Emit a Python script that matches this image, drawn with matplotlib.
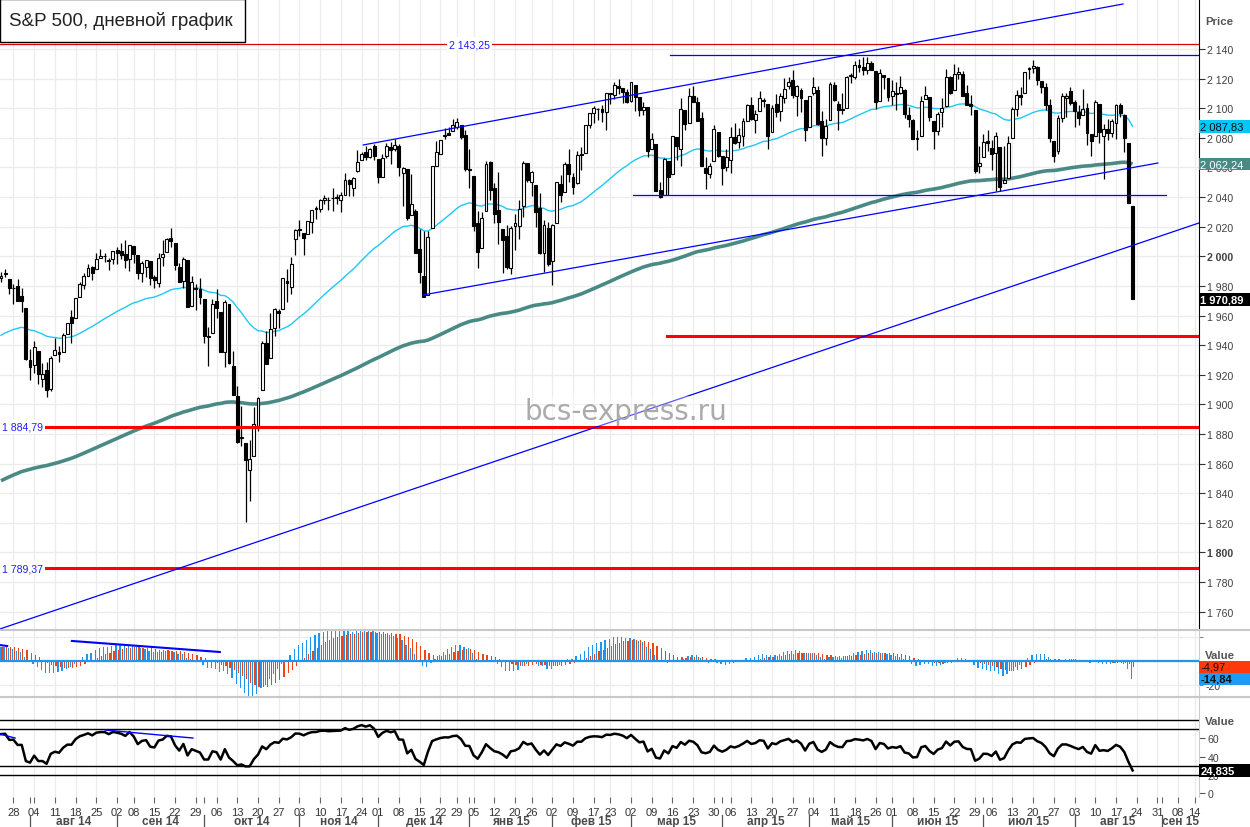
import matplotlib
matplotlib.use('Agg')
from matplotlib import pyplot as plt
from matplotlib.patches import Rectangle
from matplotlib.lines import Line2D
from matplotlib.transforms import blended_transform_factory
import numpy as np
import pandas as pd

plt.rcParams['font.family'] = ['Liberation Sans', 'DejaVu Sans']

W, H = 1250, 828

# торговые дни (биржевые праздники США)
holidays = ['2014-09-01', '2014-11-27', '2014-12-25', '2015-01-01', '2015-01-19',
            '2015-02-16', '2015-04-03', '2015-05-25', '2015-07-03', '2015-09-07']
dates = pd.bdate_range('2014-07-23', '2015-08-21', freq='C', holidays=holidays)
axis_dates = pd.bdate_range('2014-07-23', '2015-09-16', freq='C', holidays=holidays)

# ==================== котировки S&P 500 (по месяцам) ====================
opens = [
    1985.3, 1988.1, 1984.6, 1978.3, 1980.0, 1973.2, 1965.1,
    1929.8, 1926.6, 1936.3, 1917.3, 1923.0, 1910.4, 1933.4, 1935.7, 1935.6, 1947.4, 1958.9, 1958.4, 1972.7, 1980.5, 1986.8, 1992.6, 1991.7, 1998.6, 2000.5, 1997.4, 1998.5,
    2004.1, 2003.6, 2001.7, 1998.0, 2007.2, 2000.7, 1988.4, 1992.9, 1996.7, 1986.0, 1981.9, 1999.3, 2003.1, 2012.7, 2009.1, 1992.8, 1983.3, 1997.3, 1966.2, 1978.9, 1978.2,
    1971.4, 1945.8, 1948.1, 1970.0, 1962.4, 1935.6, 1967.7, 1925.6, 1905.7, 1877.1, 1874.2, 1855.9, 1864.9, 1885.6, 1909.4, 1941.3, 1931.0, 1951.6, 1962.9, 1964.1, 1983.3, 1979.5, 2011.4,
    2018.2, 2015.8, 2015.3, 2023.3, 2032.0, 2032.0, 2038.2, 2037.8, 2039.2, 2039.7, 2038.3, 2041.5, 2051.2, 2045.9, 2057.5, 2065.1, 2070.2, 2067.4, 2074.8,
    2065.8, 2053.8, 2067.5, 2073.6, 2072.8, 2074.8, 2056.6, 2058.9, 2027.9, 2030.4, 2005.0, 1986.7, 1973.8, 2018.9, 2061.0, 2069.3, 2081.5, 2083.3, 2084.3, 2087.6, 2088.5, 2082.1,
    2058.9, 2054.4, 2022.2, 2005.6, 2030.6, 2063.5, 2046.1, 2031.6, 2018.4, 2013.8, 1992.3, 2020.8, 2020.2, 2034.3, 2063.0, 2050.4, 2047.9, 2032.3, 2002.5, 2019.4,
    1996.7, 2022.7, 2048.9, 2043.5, 2062.3, 2053.5, 2049.4, 2068.6, 2070.0, 2088.8, 2096.5, 2099.2, 2099.3, 2097.7, 2109.8, 2109.1, 2115.3, 2113.9, 2110.9,
    2105.2, 2115.8, 2107.7, 2098.5, 2100.9, 2072.3, 2076.1, 2044.7, 2041.1, 2064.6, 2055.4, 2080.6, 2072.8, 2098.7, 2090.3, 2108.0, 2103.9, 2093.1, 2059.9, 2055.8, 2064.1, 2084.1,
    2067.6, 2060.0, 2064.9, 2080.8, 2076.9, 2081.3, 2091.5, 2102.0, 2092.3, 2097.8, 2105.0, 2102.6, 2084.1, 2102.8, 2098.3, 2107.2, 2114.8, 2119.3, 2108.4, 2112.5, 2105.5,
    2087.4, 2110.2, 2112.6, 2091.3, 2080.0, 2092.1, 2115.6, 2102.9, 2099.6, 2100.4, 2122.1, 2121.3, 2129.5, 2127.8, 2125.6, 2130.4, 2125.3, 2105.1, 2122.3, 2120.7,
    2108.6, 2110.4, 2110.6, 2112.4, 2095.1, 2092.3, 2079.1, 2081.1, 2106.2, 2107.4, 2091.3, 2084.3, 2097.4, 2101.6, 2121.1, 2112.5, 2123.2, 2123.2, 2110.0, 2102.6, 2098.6, 2061.2,
    2067.0, 2078.0, 2073.0, 2069.5, 2073.9, 2049.7, 2052.7, 2080.0, 2099.7, 2109.0, 2110.5, 2126.8, 2126.9, 2127.6, 2118.2, 2114.2, 2102.2, 2078.2, 2070.8, 2093.3, 2106.8, 2111.6,
    2104.5, 2097.7, 2095.3, 2100.1, 2082.6, 2081.0, 2102.7, 2081.1, 2086.2, 2083.2, 2089.7, 2102.0, 2095.7, 2076.6, 2034.1,
]
highs = [
    1989.2, 1991.4, 1984.6, 1981.5, 1984.9, 1978.9, 1965.1,
    1937.4, 1942.9, 1936.3, 1927.9, 1928.9, 1932.4, 1944.9, 1939.7, 1948.4, 1955.2, 1964.0, 1971.9, 1982.6, 1988.6, 1994.8, 1993.5, 2001.9, 2005.0, 2002.1, 1998.6, 2003.4,
    2006.1, 2009.3, 2011.2, 2007.7, 2007.2, 2001.0, 1996.7, 1997.7, 1996.7, 1987.2, 2002.3, 2010.7, 2012.3, 2019.3, 2009.1, 1995.4, 1999.8, 1997.3, 1986.4, 1981.3, 1985.2,
    1971.4, 1952.3, 1971.2, 1977.8, 1962.4, 1970.4, 1967.7, 1936.0, 1912.1, 1898.7, 1874.2, 1876.0, 1898.2, 1905.0, 1942.5, 1949.3, 1961.9, 1965.3, 1964.6, 1985.1, 1991.4, 1999.4, 2018.2,
    2024.5, 2015.8, 2023.8, 2031.6, 2034.3, 2038.7, 2041.3, 2040.3, 2046.2, 2042.2, 2043.1, 2056.1, 2052.1, 2053.8, 2071.5, 2070.2, 2074.2, 2073.3, 2075.8,
    2065.8, 2068.8, 2076.3, 2077.3, 2079.5, 2075.8, 2060.6, 2058.9, 2055.5, 2032.1, 2018.7, 2016.9, 2016.8, 2061.2, 2077.9, 2078.8, 2086.7, 2087.6, 2092.7, 2093.6, 2088.5, 2085.6,
    2072.4, 2054.4, 2030.3, 2029.6, 2064.1, 2064.4, 2049.3, 2056.9, 2018.4, 2021.4, 2020.5, 2028.9, 2038.3, 2064.6, 2063.0, 2057.6, 2047.9, 2042.5, 2024.6, 2023.3,
    2021.7, 2050.3, 2054.7, 2063.6, 2072.4, 2056.2, 2070.9, 2073.5, 2088.5, 2097.0, 2101.3, 2100.2, 2102.1, 2110.6, 2110.1, 2117.9, 2119.6, 2113.9, 2112.7,
    2117.5, 2115.8, 2107.7, 2104.3, 2100.9, 2083.5, 2076.1, 2050.1, 2066.4, 2064.6, 2081.4, 2080.6, 2106.9, 2098.7, 2113.9, 2114.9, 2107.6, 2097.4, 2067.2, 2062.8, 2089.0, 2084.1,
    2067.6, 2072.2, 2087.0, 2089.8, 2086.7, 2093.3, 2102.6, 2107.6, 2098.6, 2111.9, 2107.0, 2102.6, 2101.9, 2109.6, 2110.0, 2120.5, 2120.9, 2125.9, 2116.0, 2113.7, 2105.5,
    2108.4, 2121.0, 2115.2, 2098.4, 2092.9, 2117.7, 2117.7, 2105.1, 2110.2, 2121.5, 2123.9, 2131.8, 2133.0, 2134.7, 2134.3, 2132.2, 2125.3, 2126.2, 2122.3, 2120.7,
    2119.2, 2117.6, 2121.9, 2112.9, 2101.0, 2093.0, 2085.6, 2108.5, 2115.0, 2107.4, 2091.3, 2097.4, 2106.8, 2126.6, 2121.6, 2129.9, 2128.0, 2125.1, 2116.0, 2108.9, 2098.6, 2074.3,
    2082.8, 2085.1, 2078.6, 2083.7, 2074.0, 2074.3, 2081.3, 2100.7, 2112.0, 2114.1, 2124.4, 2128.0, 2132.8, 2128.5, 2118.5, 2116.9, 2106.0, 2078.2, 2095.6, 2110.6, 2110.5, 2114.2,
    2105.7, 2102.5, 2112.7, 2103.3, 2082.6, 2105.4, 2102.7, 2089.1, 2092.9, 2092.5, 2102.9, 2103.5, 2096.2, 2076.6, 2034.1,
]
lows = [
    1982.4, 1985.8, 1974.4, 1968.0, 1969.9, 1962.4, 1930.0,
    1916.4, 1921.2, 1913.8, 1911.5, 1904.8, 1909.0, 1933.4, 1928.3, 1935.6, 1947.4, 1941.5, 1958.4, 1972.7, 1977.7, 1986.8, 1984.1, 1991.7, 1998.6, 1996.2, 1990.5, 1994.6,
    1994.9, 1998.1, 1992.4, 1990.1, 1995.6, 1984.6, 1982.9, 1985.9, 1980.3, 1978.5, 1979.1, 1993.3, 2003.1, 2006.6, 1991.0, 1982.8, 1978.6, 1965.9, 1966.2, 1964.0, 1968.0,
    1941.7, 1926.0, 1948.1, 1958.4, 1935.1, 1925.3, 1927.6, 1906.1, 1874.1, 1871.8, 1820.7, 1835.0, 1864.9, 1882.3, 1909.4, 1927.1, 1931.0, 1946.3, 1951.4, 1964.1, 1969.0, 1974.8, 2001.0,
    2013.7, 2001.0, 2015.3, 2015.9, 2025.1, 2030.2, 2035.3, 2031.3, 2030.4, 2035.2, 2030.2, 2041.5, 2040.4, 2040.5, 2056.8, 2065.1, 2064.8, 2066.4, 2065.1,
    2049.6, 2053.8, 2066.6, 2062.3, 2070.8, 2054.3, 2034.2, 2024.3, 2027.9, 2002.3, 1982.3, 1972.6, 1973.8, 2018.9, 2061.0, 2069.3, 2079.5, 2081.9, 2084.3, 2085.8, 2079.5, 2057.9,
    2046.0, 2017.3, 1992.4, 2005.6, 2030.6, 2038.3, 2022.6, 2008.3, 1988.4, 1991.5, 1988.1, 2004.5, 2012.0, 2026.4, 2050.5, 2041.0, 2019.9, 2001.5, 1989.2, 1993.4,
    1980.9, 2022.7, 2036.7, 2043.5, 2050.0, 2041.9, 2048.6, 2058.0, 2070.0, 2086.7, 2089.8, 2092.2, 2090.8, 2085.4, 2103.0, 2105.9, 2109.9, 2103.8, 2103.8,
    2104.5, 2098.3, 2094.5, 2095.2, 2067.3, 2072.2, 2044.2, 2039.7, 2041.1, 2041.2, 2055.4, 2065.1, 2061.2, 2085.6, 2090.3, 2104.4, 2091.5, 2061.0, 2045.5, 2053.0, 2064.1, 2067.0,
    2048.4, 2057.3, 2056.5, 2076.1, 2073.3, 2074.3, 2091.5, 2092.3, 2083.2, 2097.8, 2100.8, 2072.4, 2084.1, 2094.4, 2091.1, 2103.2, 2112.8, 2107.0, 2094.9, 2097.4, 2077.6,
    2087.4, 2108.8, 2088.5, 2067.9, 2075.0, 2092.1, 2104.6, 2085.6, 2096.0, 2100.4, 2116.8, 2120.0, 2124.5, 2122.6, 2122.9, 2126.1, 2099.2, 2105.1, 2112.9, 2104.9,
    2102.5, 2099.1, 2109.6, 2093.2, 2087.0, 2079.1, 2072.1, 2081.1, 2106.2, 2091.3, 2072.5, 2082.1, 2087.1, 2101.6, 2109.5, 2112.5, 2119.9, 2108.6, 2102.3, 2095.4, 2056.6, 2056.3,
    2067.0, 2071.0, 2058.4, 2044.0, 2044.0, 2049.7, 2052.7, 2080.0, 2095.0, 2102.5, 2110.5, 2119.9, 2123.7, 2115.4, 2110.0, 2098.6, 2077.1, 2063.5, 2069.1, 2090.7, 2094.1, 2102.1,
    2087.3, 2088.6, 2095.3, 2075.5, 2067.9, 2081.0, 2076.5, 2052.1, 2078.3, 2080.6, 2079.3, 2094.1, 2070.5, 2035.7, 1970.9,
]
closes = [
    1987.0, 1988.0, 1978.3, 1978.9, 1970.0, 1970.1, 1930.7,
    1925.2, 1939.0, 1920.2, 1920.2, 1909.6, 1931.6, 1936.9, 1933.8, 1946.7, 1955.2, 1955.1, 1971.7, 1981.6, 1986.5, 1992.4, 1988.4, 1997.9, 2000.0, 2000.1, 1996.7, 2003.4,
    2002.3, 2000.7, 1997.7, 2007.7, 2001.5, 1988.4, 1995.7, 1997.5, 1985.5, 1984.1, 1999.0, 2001.6, 2011.4, 2010.4, 1994.3, 1982.8, 1998.3, 1966.0, 1982.9, 1977.8, 1972.3,
    1946.2, 1946.2, 1967.9, 1964.8, 1935.1, 1968.9, 1928.2, 1906.1, 1874.7, 1877.7, 1862.5, 1862.8, 1886.8, 1904.0, 1941.3, 1927.1, 1950.8, 1964.6, 1961.6, 1985.1, 1982.3, 1994.7, 2018.1,
    2017.8, 2012.1, 2023.6, 2031.2, 2031.9, 2038.3, 2039.7, 2038.3, 2039.3, 2039.8, 2041.3, 2051.8, 2048.7, 2052.8, 2063.5, 2069.4, 2067.0, 2072.8, 2067.6,
    2053.4, 2066.6, 2074.3, 2071.9, 2075.4, 2060.3, 2059.8, 2026.1, 2035.3, 2002.3, 1989.6, 1972.7, 2012.9, 2061.2, 2070.7, 2078.5, 2082.2, 2081.9, 2088.8, 2090.6, 2080.4, 2058.9,
    2058.2, 2020.6, 2002.6, 2025.9, 2062.1, 2044.8, 2028.3, 2023.0, 2011.3, 1992.7, 2019.4, 2022.6, 2032.1, 2063.2, 2051.8, 2057.1, 2029.6, 2002.2, 2021.3, 1995.0,
    2020.9, 2050.0, 2041.5, 2062.5, 2055.5, 2046.7, 2068.6, 2068.5, 2088.5, 2097.0, 2100.3, 2099.7, 2097.5, 2110.3, 2109.7, 2115.5, 2113.9, 2110.7, 2104.5,
    2117.4, 2107.8, 2098.5, 2101.0, 2071.3, 2079.4, 2044.2, 2040.2, 2066.0, 2053.4, 2081.2, 2074.3, 2099.5, 2089.3, 2108.1, 2104.4, 2091.5, 2061.0, 2056.2, 2061.0, 2086.2, 2067.9,
    2059.7, 2067.0, 2080.6, 2076.3, 2081.9, 2091.2, 2102.1, 2092.4, 2095.8, 2106.6, 2105.0, 2081.2, 2100.4, 2097.3, 2108.0, 2112.9, 2117.7, 2108.9, 2114.8, 2106.9, 2085.5,
    2108.3, 2114.5, 2089.5, 2080.2, 2088.0, 2116.1, 2105.3, 2099.1, 2098.5, 2121.1, 2122.7, 2129.2, 2127.8, 2125.9, 2130.8, 2126.1, 2104.2, 2123.5, 2120.8, 2107.4,
    2111.7, 2109.6, 2114.1, 2095.8, 2092.8, 2079.3, 2080.2, 2105.2, 2108.9, 2094.1, 2084.4, 2096.3, 2100.4, 2121.2, 2110.0, 2122.9, 2124.2, 2108.6, 2102.3, 2101.5, 2057.6, 2063.1,
    2077.4, 2076.8, 2068.8, 2081.3, 2046.7, 2051.3, 2076.6, 2099.6, 2109.0, 2107.4, 2124.3, 2126.6, 2128.3, 2119.2, 2114.2, 2102.2, 2079.7, 2067.6, 2093.3, 2108.6, 2108.6, 2103.8,
    2098.0, 2093.3, 2099.8, 2083.6, 2077.6, 2104.2, 2084.1, 2086.1, 2083.4, 2091.5, 2102.4, 2096.9, 2079.6, 2035.7, 1970.9,
]
assert len(opens) == len(highs) == len(lows) == len(closes) == len(dates)

# начальные значения индикаторов на левом краю графика
prev_close = 1983.5
ema50_seed, ema200_seed = 1945.0, 1847.0
ema12_seed, ema26_seed, signal_seed = 1976.0, 1964.0, 12.0
rsi_gain_seed, rsi_loss_seed = 4.5, 2.6

# подписи последних значений
last_ema50, last_ema200, last_close = 2087.83, 2062.24, 1970.89
last_signal, last_macd, last_rsi = -4.97, -14.84, 24.835

# уровни и трендовые линии (индекс дня, цена)
red_levels = [(160.7, 1946.2, ''), (-0.3, 1884.79, '1 884,79'), (-0.3, 1789.37, '1 789,37')]
thin_level = 2143.25
blue_levels = [(161.4, 289.0, 2135.9), (152.5, 281.1, 2041.4)]
main_trends = [((87.4, 2075.2), (270.7, 2170.4)),
               ((101.8, 1973.9), (279.1, 2063.0)),
               ((-0.3, 1748.3), (289.0, 2022.5))]
macd_trends = [((17.1, 16.7), (52.8, 7.5)), ((-0.3, 13.3), (1.5, 12.5))]
rsi_trends = [((25.1, 69.2), (46.3, 60.4)), ((-0.3, 64.8), (3.4, 60.4))]
rsi_levels = [80, 70, 30, 20]

ru_months = ['янв', 'фев', 'мар', 'апр', 'май', 'июн', 'июл', 'авг', 'сен', 'окт', 'ноя', 'дек']


def ema(values, n, seed):
    k = 2 / (n + 1)
    out, prev = [], seed
    for v in values:
        prev = prev + k * (v - prev)
        out.append(prev)
    return np.array(out)


def wilder_rsi(values, n, prev, g, l):
    out = []
    for v in values:
        d = v - prev
        prev = v
        g = (g * (n - 1) + max(d, 0)) / n
        l = (l * (n - 1) + max(-d, 0)) / n
        out.append(100 - 100 / (1 + g / l))
    return np.array(out)


o, hi, lo, c = map(np.array, (opens, highs, lows, closes))
idx = np.arange(len(c))
ema50 = ema(c, 50, ema50_seed)
ema200 = ema(c, 200, ema200_seed)
macd = ema(c, 12, ema12_seed) - ema(c, 26, ema26_seed)
signal = ema(macd, 9, signal_seed)
rsi = wilder_rsi(c, 14, prev_close, rsi_gain_seed, rsi_loss_seed)

# ==================== оси ====================
fig = plt.figure(figsize=(W / 100, H / 100), dpi=100)


def px_axes(x0, y0, x1, y1):
    return fig.add_axes([x0 / W, 1 - y1 / H, (x1 - x0) / W, (y1 - y0) / H])


ax = px_axes(0, 0, 1199, 631)
ax_m = px_axes(0, 631, 1199, 698)
ax_r = px_axes(0, 698, 1199, 798)

xlim = (-1 / 4.145, 1198 / 4.145)
week_pos = [i for i in range(1, len(axis_dates)) if axis_dates[i].weekday() < axis_dates[i - 1].weekday()]
month_pos = [i for i in range(1, len(axis_dates)) if axis_dates[i].month != axis_dates[i - 1].month]

grid_c = '#ececec'
for a in (ax, ax_m, ax_r):
    a.set_xlim(*xlim)
    a.set_facecolor('white')
    for s in a.spines.values():
        s.set_visible(False)
    a.set_xticks(week_pos)
    a.set_xticks(month_pos, minor=True)
    a.tick_params(axis='x', which='both', length=0, labelbottom=False)
    a.grid(axis='x', which='major', color=grid_c, linewidth=0.9, zorder=0)
    a.grid(axis='y', color=grid_c, linewidth=0.9, zorder=0)
    a.set_axisbelow(True)
    a.yaxis.tick_right()

# ==================== основной график ====================
ax.set_ylim(1747.64, 2173.77)
price_ticks = list(range(1760, 2141, 20))
ax.set_yticks(price_ticks)
ax.set_yticklabels([f'{v:,}'.replace(',', ' ') for v in price_ticks])
ax.tick_params(axis='y', direction='out', length=4, width=0.8, color='#333333',
               labelsize=7.6, labelcolor='#404040', pad=2)
for t, v in zip(ax.get_yticklabels(), price_ticks):
    if v in (1800, 2000):
        t.set_fontweight('bold')
ax.spines['right'].set_visible(True)
ax.spines['right'].set_color('black')

ax.plot(idx, ema200, color='#4a8a85', linewidth=2.6, zorder=2, solid_capstyle='butt')
ax.plot(idx, ema50, color='#1ec8f5', linewidth=1.0, zorder=2)

up = c >= o
body_lo = np.minimum(o, c)
body_h = np.maximum(np.abs(c - o), 0.4)
ax.vlines(idx, lo, hi, color='black', linewidth=0.9, zorder=3)
ax.bar(idx[up], body_h[up], bottom=body_lo[up], width=0.7, facecolor='white',
       edgecolor='black', linewidth=0.8, zorder=4)
ax.bar(idx[~up], body_h[~up], bottom=body_lo[~up], width=0.7, facecolor='black',
       edgecolor='black', linewidth=0.8, zorder=4)

ax.axhline(thin_level, color='#dd0000', linewidth=0.9, zorder=6)
ax.text(113.1, thin_level, '2 143,25', color='#2020ee', fontsize=7.6, ha='center', va='center',
        zorder=7, bbox=dict(facecolor='white', edgecolor='none', pad=1.5))
for x0, lvl, label in red_levels:
    ax.plot([x0, xlim[1]], [lvl, lvl], color='#ff0000', linewidth=2.2, zorder=6)
    if label:
        ax.text(0.3, lvl, label, color='#2020ee', fontsize=7.6, ha='left', va='center',
                zorder=7, bbox=dict(facecolor='white', edgecolor='none', pad=1.5))
for x0, x1, lvl in blue_levels:
    ax.plot([x0, x1], [lvl, lvl], color='#0000ff', linewidth=0.9, zorder=6)
for (x0, y0), (x1, y1) in main_trends:
    ax.plot([x0, x1], [y0, y1], color='#0000ff', linewidth=0.9, zorder=6)

ax.text(0.522, 0.347, 'bcs-express.ru', transform=ax.transAxes, fontsize=20, color='#a2a2a2',
        family='DejaVu Sans', alpha=0.9, ha='center', va='center', zorder=8,
        bbox=dict(facecolor='white', edgecolor='none', alpha=0.35, pad=1))

# ==================== MACD ====================
ax_m.set_ylim(-30.0, 25.83)
ax_m.set_yticks([-20, 20])
ax_m.set_yticklabels(['-20', ''])
ax_m.tick_params(axis='y', direction='out', length=3, color='#888888', labelsize=7.6,
                 labelcolor='#404040', pad=2)
ax_m.spines['right'].set_visible(True)
ax_m.spines['right'].set_color('#cccccc')
ax_m.bar(idx - 0.27, macd, width=0.3, color='#1e96f0', zorder=3)
ax_m.bar(idx + 0.27, signal, width=0.3, color='#f04412', zorder=3)
ax_m.axhline(0, color='#1e96f0', linewidth=1.6, zorder=4)
for (x0, y0), (x1, y1) in macd_trends:
    ax_m.plot([x0, x1], [y0, y1], color='#0000ff', linewidth=1.5, zorder=5)

# ==================== RSI ====================
ax_r.set_ylim(-4.4, 105.5)
ax_r.set_yticks([0, 20, 40, 60])
ax_r.tick_params(axis='y', direction='out', length=4, color='#555555', labelsize=7.6,
                 labelcolor='#404040', pad=2)
ax_r.grid(axis='y', visible=False)
ax_r.spines['right'].set_visible(True)
ax_r.spines['right'].set_color('#cccccc')
for lvl in rsi_levels:
    ax_r.axhline(lvl, color='black', linewidth=1.0, zorder=3)
ax_r.plot(idx, rsi, color='black', linewidth=1.8, zorder=4)
for (x0, y0), (x1, y1) in rsi_trends:
    ax_r.plot([x0, x1], [y0, y1], color='#0000ff', linewidth=1.0, zorder=5)

# шкала дат
ax_r.set_xticks(week_pos)
ax_r.set_xticklabels([f'{axis_dates[i].day:02d}' for i in week_pos])
ax_r.tick_params(axis='x', which='major', length=4, width=0.8, color='#666666',
                 labelbottom=True, labelsize=8, labelcolor='#333333', pad=3)
ax_r.tick_params(axis='x', which='minor', length=4, width=0.8, color='#666666')
tr = blended_transform_factory(ax_r.transData, fig.transFigure)
bounds = month_pos + [xlim[1]]
for k, i in enumerate(month_pos):
    fig.add_artist(Line2D([i, i], [1 - 816 / H, 1 - 828 / H], transform=tr,
                          color='#555555', linewidth=0.9))
    d = axis_dates[i]
    ax_r.text((i + bounds[k + 1]) / 2, 1 - 822 / H, f'{ru_months[d.month - 1]} {d.year % 100}',
              transform=tr, ha='center', va='center', fontsize=8.5, fontweight='bold',
              color='#4a4a4a', clip_on=False)

# разделители панелей
for yy in (631, 698):
    fig.add_artist(Line2D([0, 1], [1 - yy / H] * 2, transform=fig.transFigure,
                          color='#c8c8c8', linewidth=1.5))

# ==================== подписи справа ====================
fig.text(1205 / W, 1 - 22 / H, 'Price', fontsize=8.2, fontweight='bold', color='#555555', va='center')
fig.text(1205 / W, 1 - 656 / H, 'Value', fontsize=8.2, fontweight='bold', color='#555555', va='center')
fig.text(1205 / W, 1 - 722 / H, 'Value', fontsize=8.2, fontweight='bold', color='#555555', va='center')


def value_box(axis, value, text, bg, fg, weight='normal'):
    y = axis.transData.transform((0, value))[1] / H
    hh = 12.5 / H
    fig.add_artist(Rectangle((1199 / W, y - hh / 2), 51 / W, hh, transform=fig.transFigure,
                             facecolor=bg, edgecolor='none', zorder=5))
    fig.text(1200.5 / W, y, text, color=fg, fontsize=8, fontweight=weight,
             va='center', ha='left', zorder=6)


value_box(ax, last_ema50, '2 087,83', '#00c8f8', '#111111')
value_box(ax, last_ema200, '2 062,24', '#4a8a85', 'white')
value_box(ax, last_close, '1 970,89', 'black', 'white', 'bold')
value_box(ax_m, last_signal, '-4,97', '#ff3a0a', '#111111')
value_box(ax_m, last_macd, '-14,84', '#1e9cf5', '#111111', 'bold')
value_box(ax_r, last_rsi, '24,835', 'black', 'white', 'bold')

# заголовок
fig.add_artist(Rectangle((0, 1 - 43 / H), 245 / W, 43 / H, transform=fig.transFigure,
                         facecolor='white', edgecolor='black', linewidth=1.0, zorder=5))
fig.text(9 / W, 1 - 21.5 / H, 'S&P 500, дневной график', fontsize=13.5, color='#222222',
         va='center', ha='left', zorder=6)

fig.savefig('out.png', dpi=100, facecolor='white')
